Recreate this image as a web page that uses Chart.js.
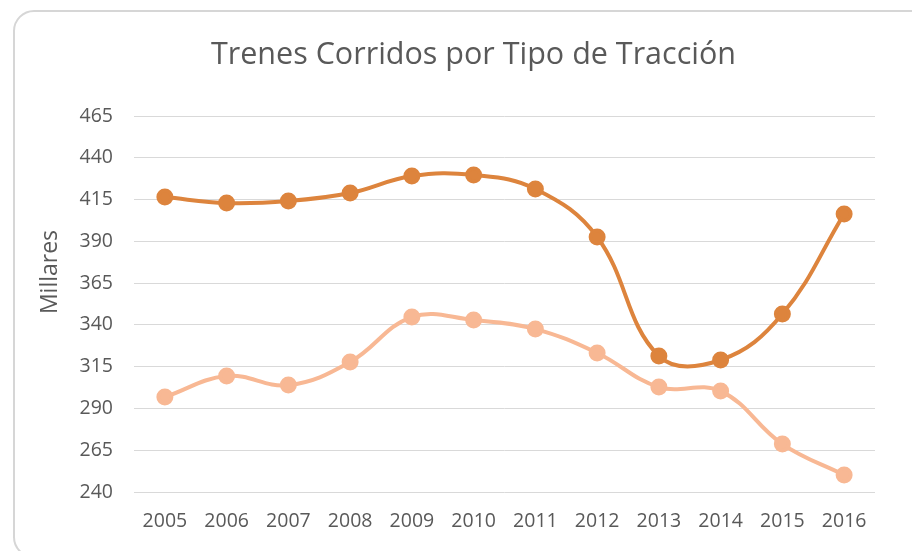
<!DOCTYPE html>
<html>
<head>
<meta charset="utf-8">
<script src="https://cdn.jsdelivr.net/npm/chart.js@4"></script>
<style>
  html, body { margin: 0; padding: 0; background: #fff; overflow: hidden; width: 912px; height: 551px; }
  #c { display: block; }
</style>
</head>
<body>
<canvas id="c" width="912" height="551"></canvas>
<script>
const categories = ['2005','2006','2007','2008','2009','2010','2011','2012','2013','2014','2015','2016'];
const serieOscura = [416.5, 412.9, 414.1, 418.9, 429.1, 429.7, 421.3, 392.6, 321.4, 319.0, 346.5, 406.4];
const serieClara  = [296.8, 309.4, 304.0, 317.8, 344.7, 342.9, 337.5, 323.2, 302.8, 300.4, 268.7, 250.2];
const yMin = 240, yMax = 465, yStep = 25;
const chartTitle = 'Trenes Corridos por Tipo de Tracción';
const yTitle = 'Millares';

const txt = '#595959';

const cardFrame = {
  id: 'cardFrame',
  beforeDraw(chart) {
    const ctx = chart.ctx;
    ctx.save();
    ctx.fillStyle = '#ffffff';
    ctx.fillRect(0, 0, chart.width, chart.height);
    ctx.strokeStyle = '#d6d6d6';
    ctx.lineWidth = 2;
    ctx.beginPath();
    ctx.roundRect(14, 11, 1000, 546, 20);
    ctx.stroke();
    ctx.restore();
  }
};

// y-axis title placed where the reference shows it (centred on the card, not the plot)
const yAxisTitle = {
  id: 'yAxisTitle',
  afterDraw(chart) {
    const ctx = chart.ctx;
    ctx.save();
    ctx.translate(50, 272);
    ctx.rotate(-Math.PI / 2);
    ctx.fillStyle = txt;
    ctx.font = '23px "Open Sans"';
    ctx.textAlign = 'center';
    ctx.textBaseline = 'middle';
    ctx.fillText(yTitle, 0, 0);
    ctx.restore();
  }
};

new Chart(document.getElementById('c'), {
  type: 'line',
  data: {
    labels: categories,
    datasets: [
      { label: 'Serie 1', data: serieOscura, borderColor: '#DD843D', backgroundColor: '#DD843D',
        borderWidth: 4, pointRadius: 6.5, pointHoverRadius: 6.5, tension: 0.4, fill: false },
      { label: 'Serie 2', data: serieClara, borderColor: '#F8B894', backgroundColor: '#F8B894',
        borderWidth: 4, pointRadius: 6.5, pointHoverRadius: 6.5, tension: 0.4, fill: false }
    ]
  },
  plugins: [cardFrame, yAxisTitle],
  options: {
    responsive: false,
    maintainAspectRatio: false,
    animation: false,
    devicePixelRatio: 1,
    layout: { padding: { left: 72, right: 37, top: 37.4, bottom: 0 } },
    plugins: {
      legend: { display: false },
      tooltip: { enabled: false },
      title: { display: true, text: chartTitle, color: txt,
               font: { family: 'Open Sans', size: 30.5, weight: 'normal' },
               padding: { top: 0, bottom: 42 } }
    },
    scales: {
      x: {
        offset: true,
        grid: { display: false, drawTicks: false },
        border: { display: false },
        ticks: { color: txt, font: { family: 'Open Sans', size: 19.5 }, padding: 17.8, maxRotation: 0, autoSkip: false }
      },
      y: {
        min: yMin, max: yMax,
        ticks: { stepSize: yStep, color: txt, font: { family: 'Open Sans', size: 19.5 }, padding: 21 },
        grid: { color: '#d9d9d9', lineWidth: 1, drawTicks: false },
        border: { display: false },
        title: { display: false },
        afterFit: (s) => { s.width = 134 - 72; }
      }
    }
  }
});
</script>
</body>
</html>
